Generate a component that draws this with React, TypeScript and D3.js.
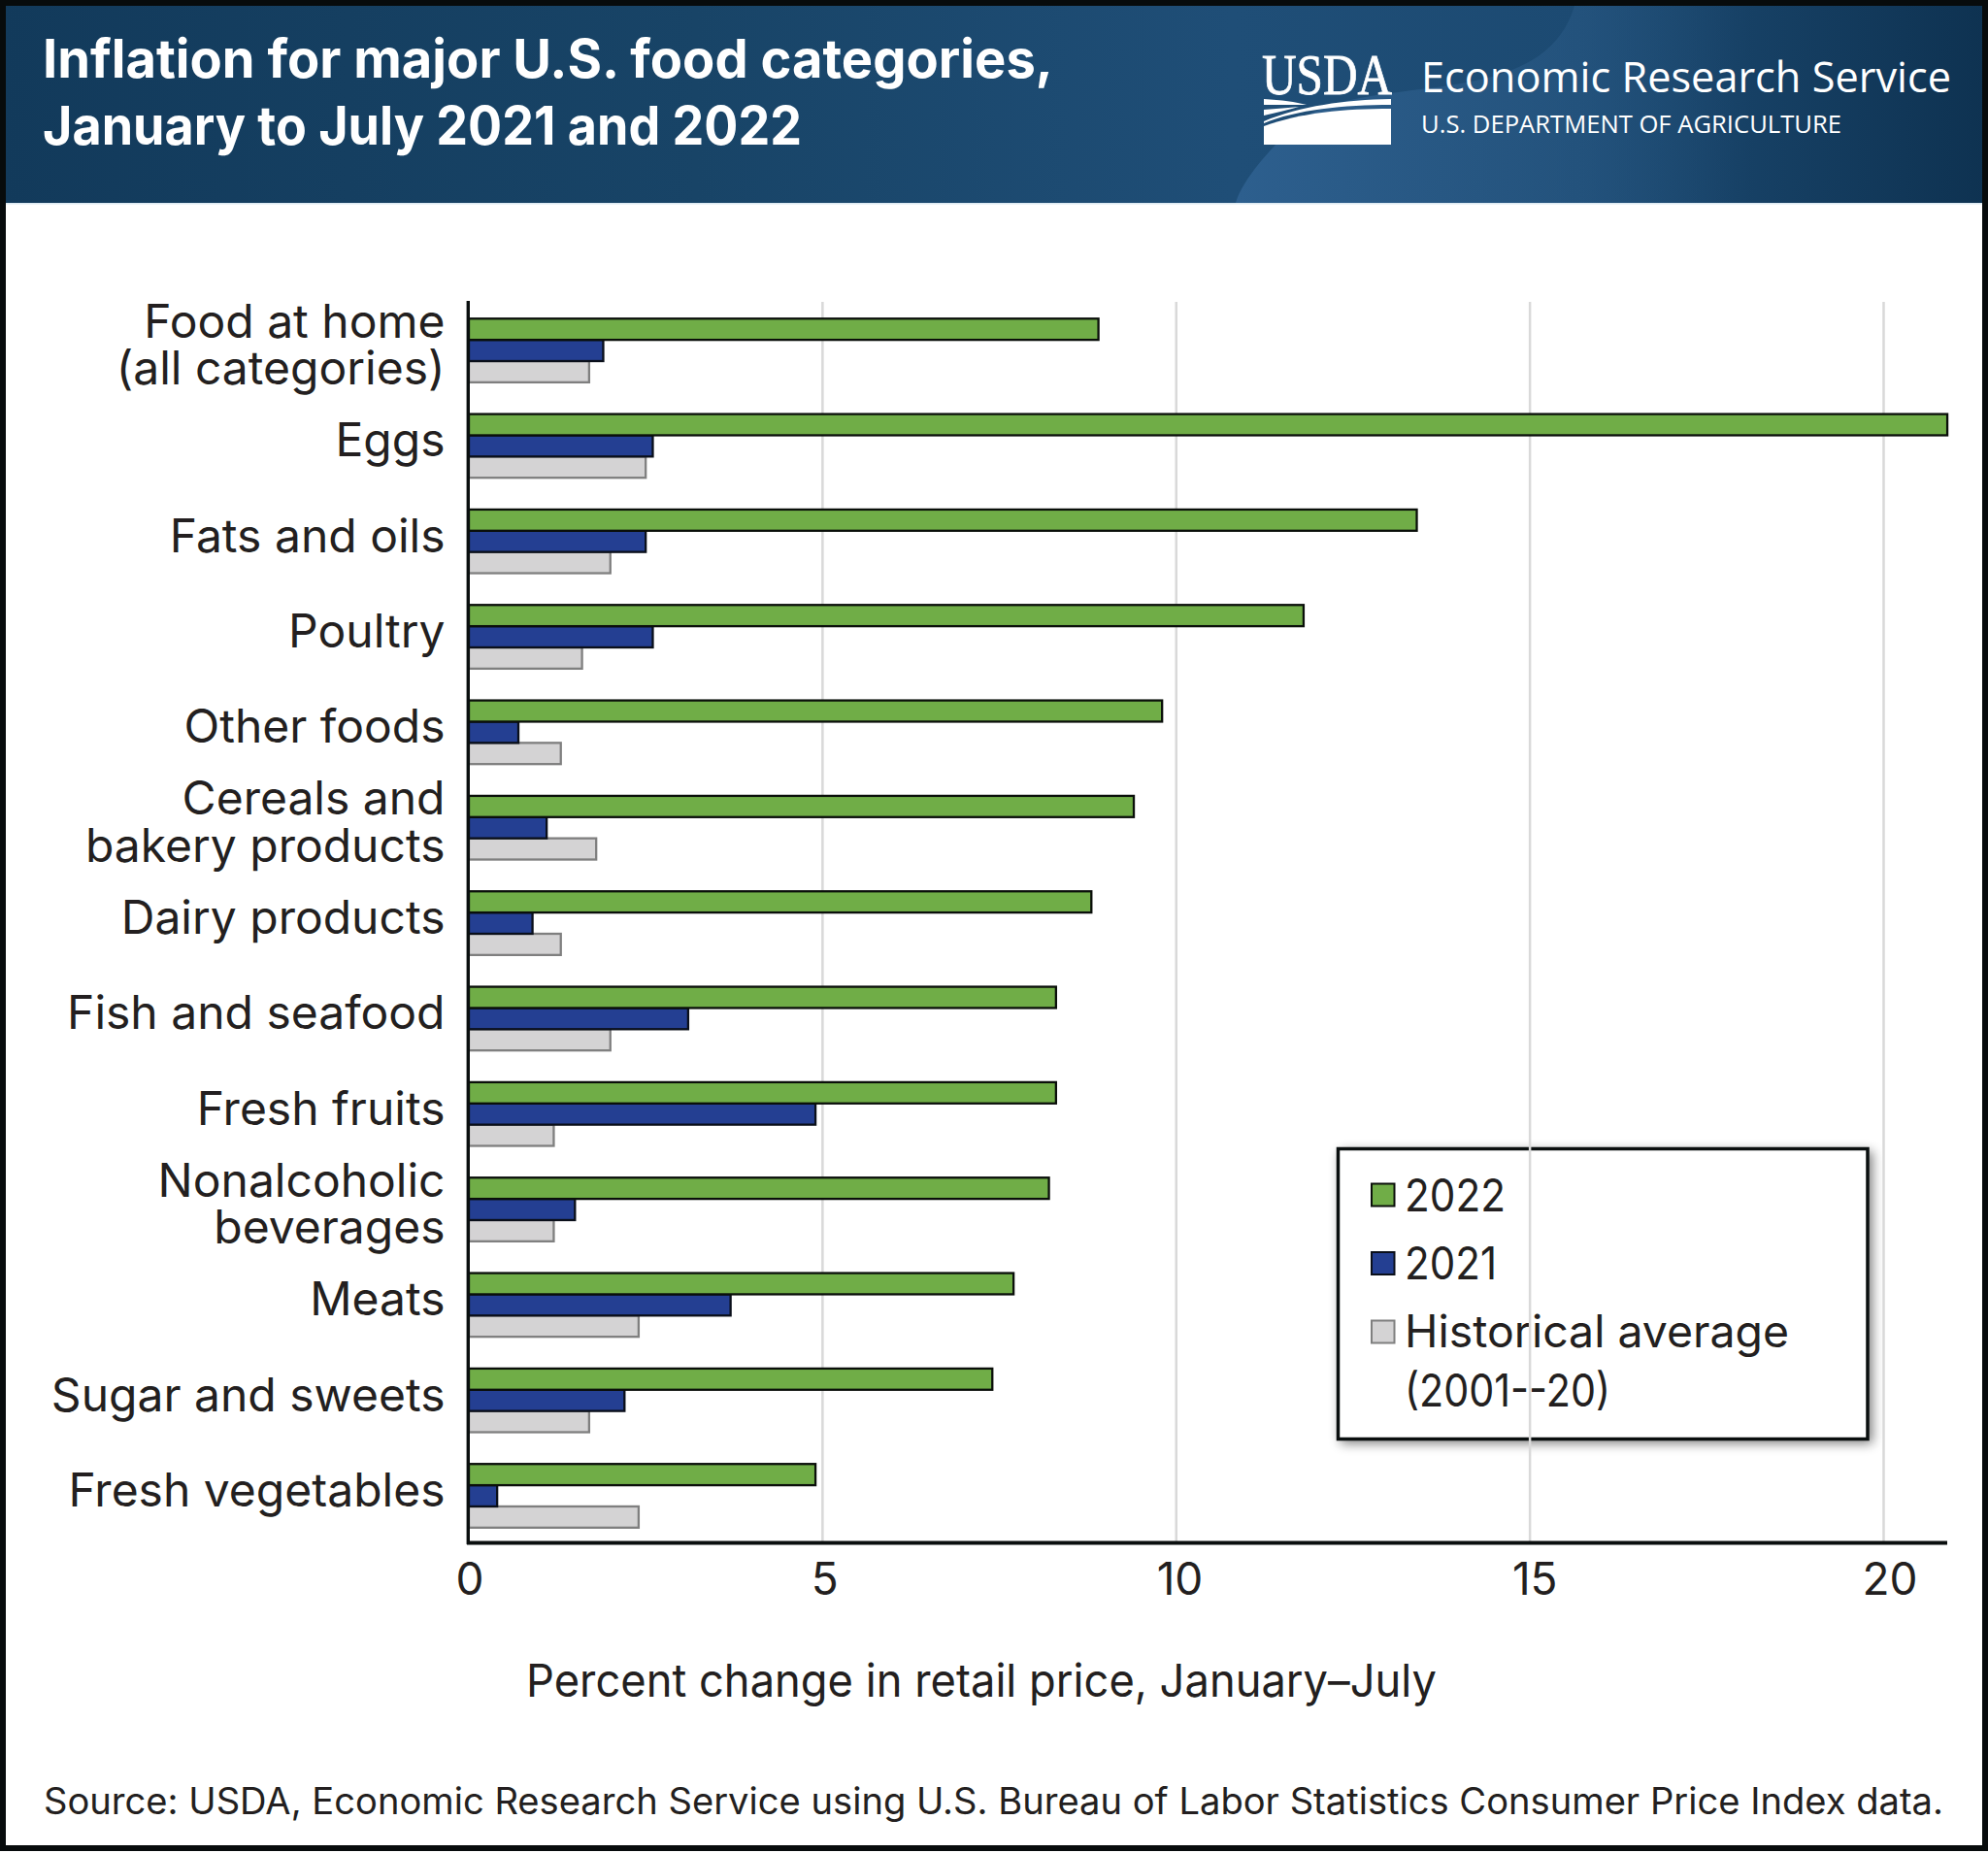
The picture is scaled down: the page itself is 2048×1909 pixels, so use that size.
import React from "react";
import * as d3 from "d3";

const categories = [
  ["Food at home", "(all categories)"],
  ["Eggs"],
  ["Fats and oils"],
  ["Poultry"],
  ["Other foods"],
  ["Cereals and", "bakery products"],
  ["Dairy products"],
  ["Fish and seafood"],
  ["Fresh fruits"],
  ["Nonalcoholic", "beverages"],
  ["Meats"],
  ["Sugar and sweets"],
  ["Fresh vegetables"],
];
const values2022 = [8.9, 20.9, 13.4, 11.8, 9.8, 9.4, 8.8, 8.3, 8.3, 8.2, 7.7, 7.4, 4.9];
const values2021 = [1.9, 2.6, 2.5, 2.6, 0.7, 1.1, 0.9, 3.1, 4.9, 1.5, 3.7, 2.2, 0.4];
const valuesHist = [1.7, 2.5, 2.0, 1.6, 1.3, 1.8, 1.3, 2.0, 1.2, 1.2, 2.4, 1.7, 2.4];
const xTicks = [0, 5, 10, 15, 20];
const seriesKeys = ["hist", "y2021", "y2022"];

const FONT = "Inter";
const INK = "#231f20";
const seriesStyle: Record<string, { fill: string; stroke: string; values: number[] }> = {
  y2022: { fill: "#70ad47", stroke: "#0a0f0a", values: values2022 },
  y2021: { fill: "#243f92", stroke: "#0a0f1a", values: values2021 },
  hist: { fill: "#d4d3d4", stroke: "#7f7f7f", values: valuesHist },
};

const x = d3.scaleLinear().domain([0, 20]).range([483, 1940.5]);
const xLabel = d3.scaleLinear().domain([0, 20]).range([484, 1947]);
const y = d3
  .scaleBand<number>()
  .domain(d3.range(categories.length))
  .range([311.9, 311.9 + 98.33 * categories.length]);
const inner = d3.scaleBand<string>().domain(["y2022", "y2021", "hist"]).range([-32.8, 32.8]);

export default function App() {
  return (
    <svg width={2048} height={1909} style={{ display: "block", background: "#fff" }} fontFamily={FONT}>
      <style>{`html,body{margin:0;padding:0;background:#fff}`}</style>
      <defs>
        <linearGradient id="hdr" x1="0" x2="1" y1="0" y2="0">
          <stop offset="0" stopColor="#123a5b" />
          <stop offset="0.35" stopColor="#184467" />
          <stop offset="0.62" stopColor="#1f4e77" />
          <stop offset="0.8" stopColor="#1c4a72" />
          <stop offset="1" stopColor="#0e3251" />
        </linearGradient>
        <linearGradient id="swoosh" gradientUnits="userSpaceOnUse" x1="1273" x2="1800" y1="0" y2="0">
          <stop offset="0" stopColor="#2d5f8e" stopOpacity="1" />
          <stop offset="0.6" stopColor="#2a5a86" stopOpacity="0.6" />
          <stop offset="1" stopColor="#2a5a86" stopOpacity="0" />
        </linearGradient>
        <filter id="shadow" x="-10%" y="-10%" width="120%" height="120%">
          <feGaussianBlur stdDeviation="6" />
        </filter>
      </defs>

      <rect x={0} y={0} width={2048} height={1909} fill="#fff" />
      <rect x={0} y={6} width={2048} height={203} fill="url(#hdr)" />
      <path
        d="M1273,209 C1280,185 1310,150 1345,120 C1420,75 1590,115 1622,6 L1800,6 L1800,209 Z"
        fill="url(#swoosh)"
      />
      <rect x={0} y={209} width={2048} height={1.5} fill="#dce9f2" />

      <text x={44} y={80} fontSize={55} fontWeight={700} fill="#fff" textLength={1041} lengthAdjust="spacingAndGlyphs">
        Inflation for major U.S. food categories,
      </text>
      <text x={44} y={149} fontSize={55} fontWeight={700} fill="#fff" textLength={782} lengthAdjust="spacingAndGlyphs">
        January to July 2021 and 2022
      </text>

      <text x={1300} y={97} fontFamily="Liberation Serif" fontSize={60} fill="#fff" stroke="#fff" strokeWidth={0.8} textLength={134} lengthAdjust="spacingAndGlyphs">
        USDA
      </text>
      <g fill="#fff">
        <path d="M1302,149 L1302,130 C1340,116 1385,112 1433,112 L1433,149 Z" />
        <path d="M1302,125 C1340,109 1385,103 1433,102 L1433,108 C1385,108 1335,113 1302,127 Z" />
        <path d="M1302,102 C1320,103 1335,105 1346,108 C1335,108 1320,108 1302,108 Z" />
        <path d="M1302,113 C1315,112 1328,111 1338,110 C1328,113 1315,116 1302,119 Z" />
      </g>
      <text x={1464} y={95} fontFamily="Open Sans" fontSize={44} fill="#fff" textLength={546} lengthAdjust="spacingAndGlyphs">
        Economic Research Service
      </text>
      <text x={1464} y={137} fontFamily="Open Sans" fontSize={26} fill="#fff" textLength={433} lengthAdjust="spacingAndGlyphs">
        U.S. DEPARTMENT OF AGRICULTURE
      </text>

      {/* legend */}
      <rect x={1381} y={1186} width={548} height={301} fill="#000" opacity={0.5} filter="url(#shadow)" />
      <rect x={1378.5} y={1183.5} width={545.5} height={299} fill="#fff" stroke="#0a0f0f" strokeWidth={3.5} />
      {[
        { key: "y2022", label: "2022", top: 1219.5, base: 1248, w: 104 },
        { key: "y2021", label: "2021", top: 1290, base: 1318, w: 95 },
        { key: "hist", label: "Historical average", top: 1360.5, base: 1388, w: 396 },
      ].map((d) => (
        <g key={d.key}>
          <rect
            x={1413}
            y={d.top}
            width={23.5}
            height={23}
            fill={seriesStyle[d.key].fill}
            stroke={seriesStyle[d.key].stroke}
            strokeWidth={2}
          />
          <text x={1447} y={d.base} fontSize={46} fill={INK} textLength={d.w} lengthAdjust="spacingAndGlyphs">
            {d.label}
          </text>
        </g>
      ))}
      <text x={1447} y={1449} fontSize={46} fill={INK} textLength={212} lengthAdjust="spacingAndGlyphs">
        (2001--20)
      </text>

      {/* gridlines */}
      {xTicks.slice(1).map((t) => (
        <line key={t} x1={x(t)} x2={x(t)} y1={311} y2={1589} stroke="#d9d9d9" strokeWidth={2.5} />
      ))}

      {/* bars */}
      {seriesKeys.map((k) =>
        seriesStyle[k].values.map((v, i) => (
          <rect
            key={k + i}
            x={x(0)}
            y={(y(i) as number) + y.bandwidth() / 2 + (inner(k) as number)}
            width={x(v) - x(0)}
            height={inner.bandwidth()}
            fill={seriesStyle[k].fill}
            stroke={seriesStyle[k].stroke}
            strokeWidth={2.3}
          />
        ))
      )}

      {/* axes */}
      <line x1={482.3} x2={482.3} y1={310} y2={1591} stroke="#0a0f0f" strokeWidth={3.4} />
      <line x1={481} x2={2006} y1={1589.5} y2={1589.5} stroke="#0a0f0f" strokeWidth={3.8} />

      {/* y labels */}
      {categories.map((lines, i) => {
        const cy = (y(i) as number) + y.bandwidth() / 2;
        return (
          <text key={i} textAnchor="end" fontSize={48} fill={INK}>
            {lines.map((ln, j) => (
              <tspan key={j} x={458.5} y={lines.length === 1 ? cy + 11 : cy - 13.5 + j * 48.5}>
                {ln}
              </tspan>
            ))}
          </text>
        );
      })}

      {/* x ticks */}
      {xTicks.map((t) => (
        <text key={t} x={xLabel(t)} y={1643} textAnchor="middle" fontSize={46} fill={INK}>
          {t}
        </text>
      ))}
      <text x={542} y={1748} fontSize={46.5} fill={INK} textLength={938} lengthAdjust="spacingAndGlyphs">
        Percent change in retail price, January–July
      </text>
      <text x={45} y={1869} fontSize={37.5} fill={INK} textLength={1957} lengthAdjust="spacingAndGlyphs">
        Source: USDA, Economic Research Service using U.S. Bureau of Labor Statistics Consumer Price Index data.
      </text>

      {/* frame */}
      <rect x={3} y={3} width={2042} height={1901} fill="none" stroke="#070b0c" strokeWidth={6} />
    </svg>
  );
}
